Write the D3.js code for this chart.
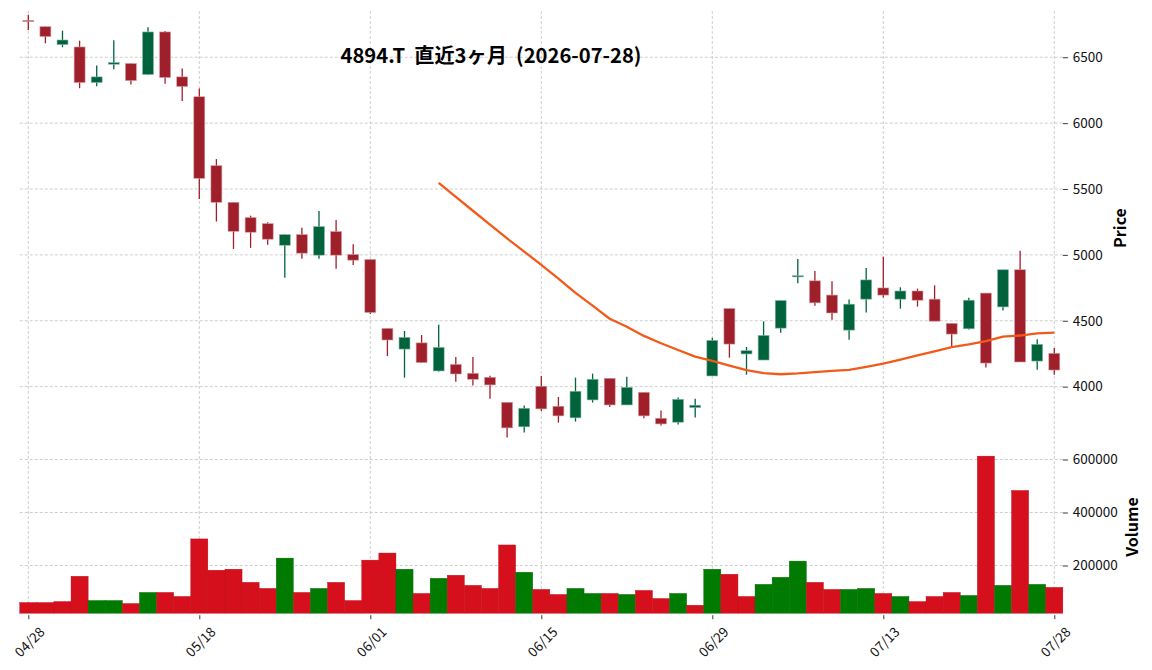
<!DOCTYPE html>
<html>
<head>
<meta charset="utf-8">
<script src="https://cdn.jsdelivr.net/npm/d3@7"></script>
<style>
  body { margin: 0; background: #fff; }
  text { font-family: "Noto Sans CJK JP", "Noto Sans", sans-serif; }
</style>
</head>
<body>
<div id="chart"></div>
<script>
const dates = ["04/28","04/30","05/01","05/07","05/08","05/11","05/12","05/13","05/14","05/15",
  "05/18","05/19","05/20","05/21","05/22","05/25","05/26","05/27","05/28","05/29",
  "06/01","06/02","06/03","06/04","06/05","06/08","06/09","06/10","06/11","06/12",
  "06/15","06/16","06/17","06/18","06/19","06/22","06/23","06/24","06/25","06/26",
  "06/29","06/30","07/01","07/02","07/03","07/06","07/07","07/08","07/09","07/10",
  "07/13","07/14","07/15","07/16","07/17","07/21","07/22","07/23","07/24","07/27","07/28"];

const opens = [6780,6732,6596,6578,6308,6447,6452,6369,6692,6351,
  6200,5677,5399,5283,5237,5073,5154,4998,5177,5003,
  4965,4442,4285,4332,4119,4169,4101,4071,3881,3695,
  4003,3851,3763,3899,4063,3861,3957,3760,3730,3841,
  4081,4593,4248,4202,4444,4836,4803,4695,4429,4664,
  4749,4664,4726,4664,4480,4439,4710,4605,4887,4194,4253];
const highs = [6823,6732,6702,6626,6437,6629,6455,6727,6700,6414,
  6263,5727,5399,5298,5248,5154,5205,5333,5265,5081,
  4965,4442,4422,4392,4470,4225,4225,4083,3881,3856,
  4081,3922,4068,4099,4063,4076,3957,3818,3917,3909,
  4371,4593,4301,4495,4654,4969,4877,4800,4661,4900,
  4985,4754,4744,4769,4480,4674,4710,4887,5031,4359,4293];
const lows = [6707,6606,6576,6265,6280,6409,6293,6365,6298,6167,
  5424,5253,5045,5053,5076,4826,4970,4970,4894,4924,
  4551,4232,4068,4180,4114,4038,4008,3909,3614,3652,
  3816,3727,3735,3879,3846,3861,3760,3705,3712,3765,
  4081,4220,4091,4202,4409,4785,4613,4508,4356,4562,
  4677,4592,4608,4497,4295,4434,4146,4577,4187,4129,4091];
const closes = [6775,6657,6631,6308,6351,6460,6323,6692,6346,6278,
  5581,5399,5179,5172,5119,5154,5013,5215,4998,4960,
  4563,4354,4374,4183,4298,4096,4056,4013,3687,3836,
  3831,3778,3965,4056,3861,3995,3778,3717,3904,3859,
  4351,4323,4273,4389,4654,4842,4636,4559,4626,4810,
  4695,4726,4656,4497,4399,4656,4179,4887,4187,4321,4126];
const volumes = [60300,60300,64100,159400,67900,67900,56500,98400,98400,83200,
  300300,182200,186000,136500,113600,227900,98400,113600,136500,67900,
  220300,247000,186000,94600,151700,163200,125100,113600,277500,174600,
  109800,90800,113600,94600,94600,90800,106000,75500,94600,50100,
  186000,167000,83200,128900,155600,216500,136500,109800,109800,113600,
  94600,83200,64100,83200,98400,87000,612700,125100,483200,128900,117500];
// 25-day moving average as drawn (null before it starts)
const ma25 = [null,null,null,null,null,null,null,null,null,null,
  null,null,null,null,null,null,null,null,null,null,
  null,null,null,null,5546,5440,5335,5230,5125,5025,
  4924,4820,4712,4615,4515,4455,4385,4329,4278,4228,
  4195,4160,4125,4102,4094,4100,4110,4120,4128,4150,
  4175,4205,4238,4268,4300,4320,4345,4380,4388,4405,4410];

const dateTicks = ["04/28","05/18","06/01","06/15","06/29","07/13","07/28"];
const priceTicks = [4000,4500,5000,5500,6000,6500];
const volumeTicks = [200000,400000,600000];
const title = "4894.T  直近3ヶ月  (2026-07-28)";

const width = 1152, height = 670;
const plot = {left: 19.75, right: 1062.85, priceTop: 11, priceBottom: 440, volTop: 440, volBottom: 613.2};

const upColor = "#00633c", downColor = "#9f1f2a";
const volUp = "#007a00", volDown = "#d50f1c";
const gridColor = "#c2c2c2";

const svg = d3.select("#chart")
  .append("svg")
    .attr("width", width)
    .attr("height", height)
    .style("background", "#fff");

const x = d3.scaleLinear()
  .domain([-0.5, dates.length - 0.5])
  .range([plot.left, plot.right]);
const step = x(1) - x(0);

const y = d3.scaleLinear()
  .domain([3595, 6851])
  .range([plot.priceBottom, plot.priceTop]);

const yv = d3.scaleLinear()
  .domain([20000, 673600])
  .range([plot.volBottom, plot.volTop]);

// grid
const grid = svg.append("g")
  .attr("stroke", gridColor)
  .attr("stroke-width", 0.8)
  .attr("stroke-dasharray", "3,2");

grid.selectAll(".hp")
  .data(priceTicks)
  .join("line")
    .attr("x1", plot.left).attr("x2", plot.right)
    .attr("y1", d => y(d)).attr("y2", d => y(d));

grid.selectAll(".hv")
  .data(volumeTicks)
  .join("line")
    .attr("x1", plot.left).attr("x2", plot.right)
    .attr("y1", d => yv(d)).attr("y2", d => yv(d));

const tickIdx = dateTicks.map(d => dates.indexOf(d));
grid.selectAll(".vx")
  .data(tickIdx)
  .join("line")
    .attr("x1", d => x(d)).attr("x2", d => x(d))
    .attr("y1", plot.priceTop).attr("y2", plot.volBottom);

// volume bars, coloured by close vs previous close
const volColor = (d, i) => (i > 0 && closes[i] > closes[i - 1]) ? volUp : volDown;
svg.append("g")
  .selectAll("rect")
  .data(volumes)
  .join("rect")
    .attr("x", (d, i) => x(i) - step / 2)
    .attr("width", step)
    .attr("y", d => yv(d))
    .attr("height", d => yv.range()[0] - yv(d))
    .attr("fill", volColor)
    .attr("stroke", (d, i) => d3.color(volColor(d, i)).darker(0.4))
    .attr("stroke-width", 0.4);

// candles
const candles = dates.map((d, i) => ({i, o: opens[i], h: highs[i], l: lows[i], c: closes[i]}));
const cColor = d => d.c >= d.o ? upColor : downColor;

svg.append("g")
  .selectAll("line")
  .data(candles)
  .join("line")
    .attr("x1", d => x(d.i)).attr("x2", d => x(d.i))
    .attr("y1", d => y(d.h)).attr("y2", d => y(d.l))
    .attr("stroke", cColor)
    .attr("stroke-width", 1.3);

const bodyW = step * 0.64;
svg.append("g")
  .selectAll("rect")
  .data(candles)
  .join("rect")
    .attr("x", d => x(d.i) - bodyW / 2)
    .attr("width", bodyW)
    .attr("y", d => y(Math.max(d.o, d.c)))
    .attr("height", d => Math.max(1.2, Math.abs(y(d.o) - y(d.c))))
    .attr("fill", cColor)
    .attr("stroke", d => d3.interpolateRgb(cColor(d), "#fff")(0.55))
    .attr("stroke-width", 0.6);

// moving average
svg.append("path")
  .datum(ma25.map((v, i) => ({i, v})).filter(d => d.v != null))
  .attr("fill", "none")
  .attr("stroke", "#f25a1a")
  .attr("stroke-width", 2.3)
  .attr("stroke-linejoin", "round")
  .attr("d", d3.line()
    .x(d => x(d.i))
    .y(d => y(d.v)));

// axes
const priceAxis = svg.append("g")
  .attr("transform", `translate(${plot.right},0)`)
  .call(d3.axisRight(y).tickValues(priceTicks).tickSize(5).tickPadding(5).tickFormat(d3.format("d")));
const volAxis = svg.append("g")
  .attr("transform", `translate(${plot.right},0)`)
  .call(d3.axisRight(yv).tickValues(volumeTicks).tickSize(5).tickPadding(5).tickFormat(d3.format("d")));
const dateAxis = svg.append("g")
  .attr("transform", `translate(0,${plot.volBottom + 2})`)
  .call(d3.axisBottom(x).tickValues(tickIdx).tickSize(4).tickFormat(i => dates[i]));

[priceAxis, volAxis, dateAxis].forEach(a => {
  a.select(".domain").remove();
  a.selectAll(".tick line").attr("stroke", "#222").attr("stroke-width", 0.9);
  a.selectAll("text")
    .attr("fill", "#111")
    .style("font-size", "13.5px")
    .style("font-family", "'Noto Sans CJK JP', 'Noto Sans', sans-serif");
});

dateAxis.selectAll("text")
  .attr("y", null)
  .attr("dy", null)
  .attr("text-anchor", "middle")
  .attr("dominant-baseline", "central")
  .attr("transform", "translate(0,26) rotate(-45)");

// labels
svg.append("text")
  .attr("transform", "translate(1126,228) rotate(-90)")
  .attr("text-anchor", "middle")
  .style("font-size", "16px")
  .style("font-weight", "bold")
  .text("Price");

svg.append("text")
  .attr("transform", "translate(1138,527) rotate(-90)")
  .attr("text-anchor", "middle")
  .style("font-size", "16px")
  .style("font-weight", "bold")
  .text("Volume");

svg.append("text")
  .attr("x", 491)
  .attr("y", 63)
  .attr("text-anchor", "middle")
  .style("white-space", "pre")
  .style("font-size", "20.2px")
  .style("font-weight", "bold")
  .text(title);
</script>
</body>
</html>
